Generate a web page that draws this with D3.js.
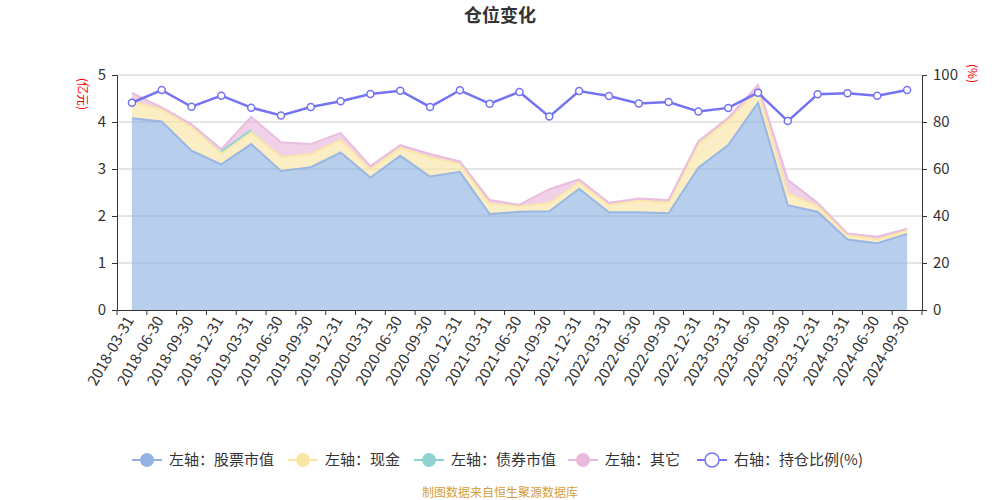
<!DOCTYPE html>
<html><head><meta charset="utf-8">
<script src="https://cdn.jsdelivr.net/npm/d3@7/dist/d3.min.js"></script>
<style>body{margin:0;background:#fff;}svg{display:block;font-family:"Noto Sans CJK SC","Noto Sans",sans-serif;}</style>
</head><body><svg id="c" width="1000" height="500"></svg>
<script>
const categories = ["2018-03-31","2018-06-30","2018-09-30","2018-12-31","2019-03-31","2019-06-30","2019-09-30","2019-12-31","2020-03-31","2020-06-30","2020-09-30","2020-12-31","2021-03-31","2021-06-30","2021-09-30","2021-12-31","2022-03-31","2022-06-30","2022-09-30","2022-12-31","2023-03-31","2023-06-30","2023-09-30","2023-12-31","2024-03-31","2024-06-30","2024-09-30"];
const stock = [4.08,4.01,3.39,3.10,3.53,2.96,3.04,3.35,2.82,3.28,2.84,2.94,2.04,2.09,2.10,2.58,2.08,2.08,2.06,3.03,3.51,4.41,2.23,2.09,1.50,1.42,1.62];
const cash  = [0.35,0.26,0.51,0.23,0.25,0.30,0.28,0.27,0.17,0.17,0.41,0.17,0.22,0.12,0.17,0.14,0.16,0.25,0.22,0.50,0.52,0.26,0.25,0.12,0.09,0.08,0.07];
const bond  = [0,0,0,0.05,0.05,0,0,0,0,0,0,0,0,0,0,0,0,0,0,0,0,0,0,0,0,0,0];
const other = [0.19,0.04,0.05,0.04,0.28,0.31,0.21,0.15,0.07,0.06,0.07,0.05,0.08,0.03,0.30,0.06,0.04,0.04,0.06,0.06,0.06,0.12,0.29,0.07,0.04,0.06,0.04];
const ratio = [88.2,93.6,86.5,91.2,86.1,82.8,86.4,88.8,91.9,93.3,86.4,93.5,87.8,92.8,82.3,93.2,91.1,87.9,88.5,84.5,86.0,92.5,80.4,91.8,92.2,91.2,93.6];
const leftTicks = [0,1,2,3,4,5];
const rightTicks = [0,20,40,60,80,100];
const seriesNames = ["左轴：股票市值","左轴：现金","左轴：债券市值","左轴：其它","右轴：持仓比例(%)"];
const colors = ["#92b3e3","#f9e5a4","#8fd3d1","#e8b9dc","#7474f2"];

const svg = d3.select("#c");
const L = 117, R = 922, T = 75, B = 310;
const x = d3.scaleBand().domain(categories).range([L, R]);
const yL = d3.scaleLinear().domain([0,5]).range([B, T]);
const yR = d3.scaleLinear().domain([0,100]).range([B, T]);
const cx = d => x(d) + x.bandwidth()/2;

// title
svg.append("text").attr("x",500).attr("y",22).attr("text-anchor","middle")
  .attr("font-size",18).attr("font-weight","bold").attr("fill","#333").text("仓位变化");

// grid
svg.append("g").selectAll("line").data(leftTicks.slice(1)).join("line")
  .attr("x1",L).attr("x2",R).attr("y1",d=>yL(d)).attr("y2",d=>yL(d))
  .attr("stroke","#ccc").attr("stroke-width",1);

// stacked areas
const table = categories.map((c,i)=>({c, stock:stock[i], cash:cash[i], bond:bond[i], other:other[i]}));
const stack = d3.stack().keys(["stock","cash","bond","other"])(table);
const area = d3.area().x(d=>cx(d.data.c)).y0(d=>yL(d[0])).y1(d=>yL(d[1]));
const gA = svg.append("g");
stack.forEach((s,i)=>{
  gA.append("path").datum(s).attr("d",area).attr("fill",colors[i]).attr("fill-opacity",0.65);
});
stack.forEach((s,i)=>{
  const key = s.key;
  const vals = table.map(d=>d[key]);
  const ln = d3.line().x(d=>cx(d.data.c)).y(d=>yL(d[1]))
    .defined((d,j)=> i!==2 || vals[j]>0);
  gA.append("path").datum(s).attr("d",ln).attr("fill","none").attr("stroke",colors[i]).attr("stroke-width",2).attr("stroke-opacity",0.9);
});

// axes
const fs = 14;
const axL = svg.append("g").attr("transform",`translate(${L},0)`)
  .call(d3.axisLeft(yL).tickValues(leftTicks).tickFormat(d3.format("d")).tickSize(5).tickPadding(6));
const axR = svg.append("g").attr("transform",`translate(${R},0)`)
  .call(d3.axisRight(yR).tickValues(rightTicks).tickFormat(d3.format("d")).tickSize(5).tickPadding(6));
[axL,axR].forEach(a=>{a.select(".domain").attr("stroke","#333");a.selectAll(".tick line").attr("stroke","#333");
  a.selectAll("text").attr("font-size",15).attr("fill","#333").attr("font-family",'"Noto Sans CJK SC",sans-serif');});

const axB = svg.append("g").attr("transform",`translate(0,${B})`)
  .call(d3.axisBottom(x).tickSize(0).tickPadding(8));
axB.select(".domain").attr("stroke","#333");
const bounds = categories.map(c=>x(c)).concat([R]);
axB.selectAll(".bt").data(bounds).join("line").attr("class","bt")
  .attr("x1",d=>d).attr("x2",d=>d).attr("y1",0).attr("y2",5).attr("stroke","#333");
axB.selectAll(".tick text").attr("font-size",15).attr("fill","#333").attr("font-family",'"Noto Sans CJK SC",sans-serif')
  .attr("text-anchor","end").attr("dy","0.35em").attr("transform","translate(0,4) rotate(-60)").attr("x",-4).attr("y",0);

// axis names
svg.append("text").attr("transform","translate(78,78) rotate(90)").attr("font-size",12).attr("fill","#ff0000").text("(亿元)");
svg.append("text").attr("transform","translate(968,64) rotate(90)").attr("font-size",12).attr("fill","#ff0000").text("(%)");

// ratio line
const line = d3.line().x((d,i)=>cx(categories[i])).y(d=>yR(d));
svg.append("path").datum(ratio).attr("d",line).attr("fill","none").attr("stroke",colors[4]).attr("stroke-width",2.5);
svg.append("g").selectAll("circle").data(ratio).join("circle")
  .attr("cx",(d,i)=>cx(categories[i])).attr("cy",d=>yR(d)).attr("r",3.5)
  .attr("fill","#fff").attr("stroke",colors[4]).attr("stroke-width",1.5);

// legend
const legX = [132, 288, 414, 568, 697];
const lg = svg.append("g");
seriesNames.forEach((n,i)=>{
  const g = lg.append("g").attr("transform",`translate(${legX[i]},460)`);
  g.append("line").attr("x1",0).attr("x2",30).attr("y1",0).attr("y2",0).attr("stroke",colors[i]).attr("stroke-width",2);
  g.append("circle").attr("cx",15).attr("cy",0).attr("r",7)
    .attr("fill",i===4?"#fff":colors[i]).attr("stroke",colors[i]).attr("stroke-width",i===4?1.5:0);
  g.append("text").attr("x",37).attr("y",0).attr("dy","0.35em").attr("font-size",15).attr("fill","#333").text(n);
});

// footer
svg.append("text").attr("x",500).attr("y",497).attr("text-anchor","middle").attr("font-size",12).attr("fill","#d4a03c").text("制图数据来自恒生聚源数据库");
</script></body></html>
